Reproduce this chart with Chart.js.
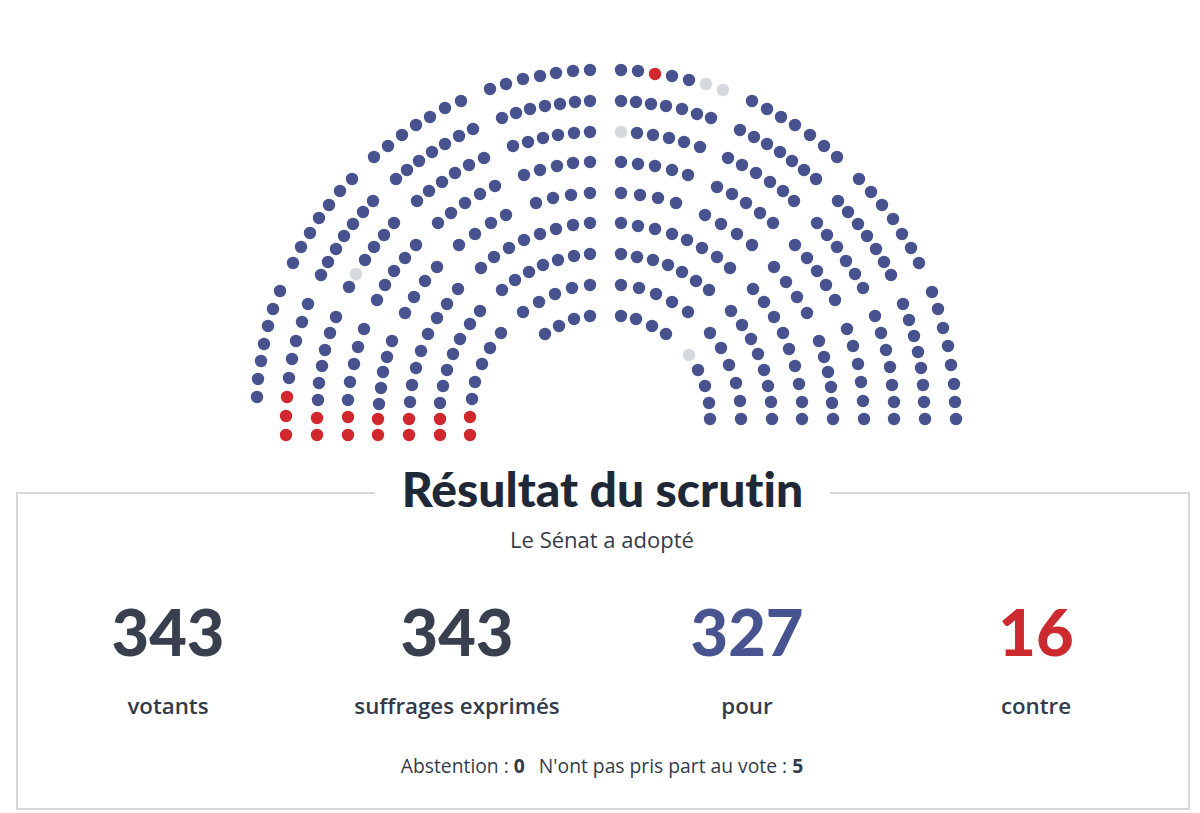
<!DOCTYPE html>
<html lang="fr">
<head>
<meta charset="utf-8">
<title>Résultat du scrutin</title>
<script src="https://cdn.jsdelivr.net/npm/chart.js@4"></script>
<style>
html, body { margin: 0; background: #fff; }
body { width: 1200px; height: 813px; position: relative; overflow: hidden; font-family: "Open Sans", sans-serif; color: #333b4b; }
#hemicycle { position: absolute; left: 0; top: 0; }
#box { position: absolute; left: 16px; top: 492px; width: 1170px; height: 314px; border: 2px solid #d6d8dd; }
#title { position: absolute; left: 375px; width: 455px; top: 459px; text-align: center; background: #fff; font-family: Lato, sans-serif; font-weight: 900; font-size: 48px; line-height: 60px; color: #1e2836; font-variant-ligatures: none; }
#subtitle { position: absolute; left: 0; width: 1204px; top: 524px; text-align: center; font-size: 22px; line-height: 30px; }
.num { position: absolute; width: 300px; top: 595px; text-align: center; font-family: Lato, sans-serif; font-weight: 900; font-size: 65px; line-height: 72px; }
.lab { position: absolute; width: 300px; top: 691px; text-align: center; font-weight: 600; font-size: 22.3px; line-height: 30px; }
#footer { position: absolute; left: 0; width: 1204px; top: 753px; text-align: center; font-size: 19.3px; line-height: 26px; }
#footer span { margin-left: 14px; }
</style>
</head>
<body>
<canvas id="hemicycle" width="1200" height="460"></canvas>
<div id="box"></div>
<div id="title">Résultat du scrutin</div>
<div id="subtitle">Le Sénat a adopté</div>
<div id="results"></div>
<div id="footer"></div>
<script>
// seats, [x, y], by sector of the hemicycle
const pourBasGauche = [
    [257,397],[258,379],[261,361],[264,344],[268,326],[273,309],[280,291],
    [289,378],[292,359],[296,341],[302,322],[308,304],
    [318,400],[319,383],[322,366],[325,350],[330,333],[336,317],
    [348,400],[350,382],[354,364],[358,347],[364,329],
    [379,404],[381,388],[383,372],[387,357],[392,341],
    [410,402],[412,385],[416,368],[421,351],[428,334],[437,318],[447,304],[458,289],
    [440,403],[443,386],[447,370],[453,354],[460,339],[470,324],[480,311],
    [472,399],[475,382],[482,364],[490,348],[501,333],
];
const pourMilieuGauche = [
    [293,263],[301,247],[310,233],[319,218],[329,205],[340,191],[352,179],
    [321,275],[328,262],[336,249],[344,236],[353,224],[363,212],[373,201],
    [349,287],[365,260],[374,247],[384,235],[394,223],
    [377,300],[385,285],[394,271],[405,258],[416,245],
    [405,313],[414,297],[425,281],[437,267],
];
const pourHautGauche = [
    [374,157],[388,146],[402,135],[416,125],[430,117],[445,108],[461,101],
    [396,179],[407,170],[419,161],[432,152],[445,144],[459,136],[473,129],
    [417,201],[429,191],[442,182],[455,173],[469,165],[484,158],
    [438,223],[451,213],[465,203],[480,194],[495,186],
    [459,245],[475,234],[491,223],[506,215],
];
const pourCentreGauche = [
    [490,89],[506,84],[523,79],[540,76],[556,73],[573,71],[590,70],
    [502,118],[516,113],[530,109],[545,106],[560,104],[575,102],[590,101],
    [513,146],[528,142],[543,138],[558,135],[574,133],[590,132],
    [524,175],[540,170],[557,166],[573,163],[590,162],
    [536,203],[553,198],[571,195],[590,193],
    [481,268],[494,257],[509,248],[524,240],[540,234],[556,229],[573,225],[590,223],
    [502,290],[515,280],[529,272],[543,265],[558,260],[574,256],[590,254],
    [523,312],[539,302],[555,294],[572,288],[590,285],
    [545,334],[559,326],[574,319],[590,316],
];
const pourCentreDroit = [
    [621,70],[638,71],[672,76],[689,80],
    [621,101],[636,102],[651,104],[666,106],[682,109],[697,114],[711,118],
    [637,133],[653,135],[669,138],[684,142],[700,147],
    [621,162],[638,164],[655,166],[672,170],[688,175],
    [621,193],[640,195],[658,198],[676,203],
    [621,223],[638,226],[655,229],[672,234],[687,240],[702,248],[717,257],[730,268],
    [621,254],[637,257],[653,260],[668,265],[682,272],[696,281],[709,290],
    [621,285],[639,288],[656,294],[672,302],[688,312],
    [621,316],[636,319],[652,326],[666,334],
];
const pourHautDroit = [
    [752,101],[767,109],[781,117],[795,125],[810,135],[824,146],[837,157],
    [740,130],[754,137],[767,144],[780,152],[792,161],[804,170],[816,179],
    [728,158],[742,165],[756,173],[770,182],[783,191],[794,201],
    [717,187],[732,194],[746,203],[760,213],[773,223],
    [705,215],[721,224],[737,234],[752,245],
];
const pourMilieuDroit = [
    [859,179],[871,192],[882,205],[893,219],[902,234],[911,248],[919,263],
    [838,201],[848,212],[858,224],[867,236],[876,249],[884,262],[891,275],
    [817,223],[827,235],[837,247],[846,261],[855,274],[863,288],
    [795,245],[807,258],[817,271],[826,285],[835,300],
    [774,267],[786,282],[797,297],[807,313],
];
const pourBasDroit = [
    [698,370],[705,386],[709,403],[710,419],
    [710,333],[721,348],[729,365],[736,383],[740,401],[741,419],
    [731,311],[742,325],[751,339],[758,354],[764,370],[768,386],[771,402],[772,419],
    [753,289],[764,302],[774,317],[783,333],[789,349],[795,366],[799,384],[802,402],[802,419],
    [819,341],[824,357],[828,372],[831,387],[832,403],[833,419],
    [847,329],[853,346],[858,364],[861,382],[863,401],[864,419],
    [875,316],[881,333],[886,350],[890,367],[892,385],[894,402],[894,419],
    [903,304],[909,320],[914,336],[918,352],[921,368],[923,385],[924,402],[925,419],
    [932,292],[938,309],[943,328],[948,346],[951,365],[954,384],[955,402],[956,419],
];
const contre = [
    [286,435],[317,435],[348,435],[378,435],[409,435],[440,435],[470,435],
    [286,416],[317,418],[348,417],[378,419],[409,419],[440,419],[470,417],
    [287,397],[655,74],
];
const absents = [[356,274],[706,84],[723,90],[621,132],[689,355]];

const resultNumbers = ['343', '343', '327', '16'];
const resultLabels = ['votants', 'suffrages exprimés', 'pour', 'contre'];
const resultColors = ['#38404f', '#38404f', '#47548f', '#cc2a2f'];
const resultCenters = [168, 457, 747, 1036];

const toPoints = (seats) => seats.map(([x, y]) => ({x: x, y: y}));

const pour = [].concat(pourBasGauche, pourMilieuGauche, pourHautGauche, pourCentreGauche,
    pourCentreDroit, pourHautDroit, pourMilieuDroit, pourBasDroit);

const seatSet = (label, seats, color) => ({
    label: label,
    data: toPoints(seats),
    backgroundColor: color,
    borderWidth: 0,
    pointRadius: 6.2,
});

new Chart(document.getElementById('hemicycle'), {
    type: 'scatter',
    data: {
        datasets: [
            seatSet('pour', pour, '#47528f'),
            seatSet('contre', contre, '#d0282d'),
            seatSet('non votants', absents, '#d5d8dc'),
        ],
    },
    options: {
        responsive: false,
        animation: false,
        // no room kept for the points, the scales fill the whole canvas
        layout: {padding: 0, autoPadding: false},
        plugins: {legend: {display: false}, tooltip: {enabled: false}},
        scales: {
            x: {type: 'linear', min: 0, max: 1200, display: false},
            y: {type: 'linear', min: 0, max: 460, reverse: true, display: false},
        },
    },
});

const results = document.getElementById('results');
resultNumbers.forEach(function (value, i) {
    const num = document.createElement('div');
    num.className = 'num';
    num.textContent = value;
    num.style.left = (resultCenters[i] - 150) + 'px';
    num.style.color = resultColors[i];
    results.appendChild(num);

    const lab = document.createElement('div');
    lab.className = 'lab';
    lab.textContent = resultLabels[i];
    lab.style.left = (resultCenters[i] - 150) + 'px';
    results.appendChild(lab);
});

document.getElementById('footer').innerHTML =
    'Abstention : <b>0</b><span>N\'ont pas pris part au vote : <b>5</b></span>';
</script>
</body>
</html>
